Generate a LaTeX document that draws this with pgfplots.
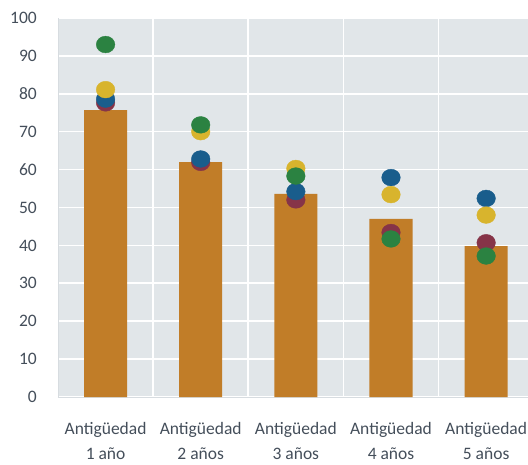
\documentclass[border=0pt]{standalone}
\usepackage{pgfplots}
\pgfplotsset{compat=1.18}
\usepackage{fontspec}
\setmainfont{Carlito}
\definecolor{bgc}{RGB}{225,230,233}
\definecolor{barc}{RGB}{193,125,40}
\definecolor{grn}{RGB}{43,130,65}
\definecolor{ylw}{RGB}{216,180,45}
\definecolor{blu}{RGB}{25,93,140}
\definecolor{mrn}{RGB}{134,52,72}
\definecolor{txt}{RGB}{68,78,90}
\definecolor{axc}{RGB}{215,220,224}
\begin{document}
\begin{tikzpicture}
\useasboundingbox (-58bp,-68bp) rectangle (470bp,397bp);
\begin{axis}[
  at={(0,0)}, anchor=south west,
  scale only axis,
  width=470bp, height=379bp,
  xmin=-0.5, xmax=4.44,
  ymin=0, ymax=100,
  ytick={0,10,...,100},
  xtick={0,1,2,3,4},
  xticklabels={{Antigüedad\\1 año},{Antigüedad\\2 años},{Antigüedad\\3 años},{Antigüedad\\4 años},{Antigüedad\\5 años}},
  minor xtick={0.5,1.5,2.5,3.5},
  xminorgrids, ymajorgrids,
  grid style={white, line width=1.6bp},
  minor grid style={white, line width=1.6bp},
  major tick length=0pt, minor tick length=0pt,
  axis background/.style={fill=bgc},
  axis x line*=bottom, axis y line*=left,
  axis line style={axc, line width=0.8bp, -},
  /pgf/number format/assume math mode=true,
  tick label style={font=\fontsize{17.5bp}{25bp}\selectfont, text=txt, inner sep=0pt},
  yticklabel style={anchor=east, xshift=-21bp},
  xticklabel style={align=center, anchor=north, yshift=-25bp},
  marks/.style={only marks, mark=*, mark size=9.3bp, color=#1, mark options={yscale=0.9}},
  clip=false,
]
\addplot[ybar, bar width=43bp, fill=barc, draw=none] coordinates {
  (0,75.7) (1,62.0) (2,53.6) (3,47.0) (4,39.8)};
\addplot[marks=mrn] coordinates {
  (0,77.6) (1,61.9) (2,52.0) (3,43.4) (4,40.7)};
\addplot[marks=blu] coordinates {
  (0,78.6) (1,62.8) (2,54.2) (3,57.9) (4,52.4)};
\addplot[marks=ylw] coordinates {
  (0,81.1) (1,70.0) (2,60.3) (3,53.4) (4,48.0)};
\addplot[marks=grn] coordinates {
  (0,93.0) (1,71.8) (2,58.3) (3,41.7) (4,37.2)};
\end{axis}
\end{tikzpicture}
\end{document}
